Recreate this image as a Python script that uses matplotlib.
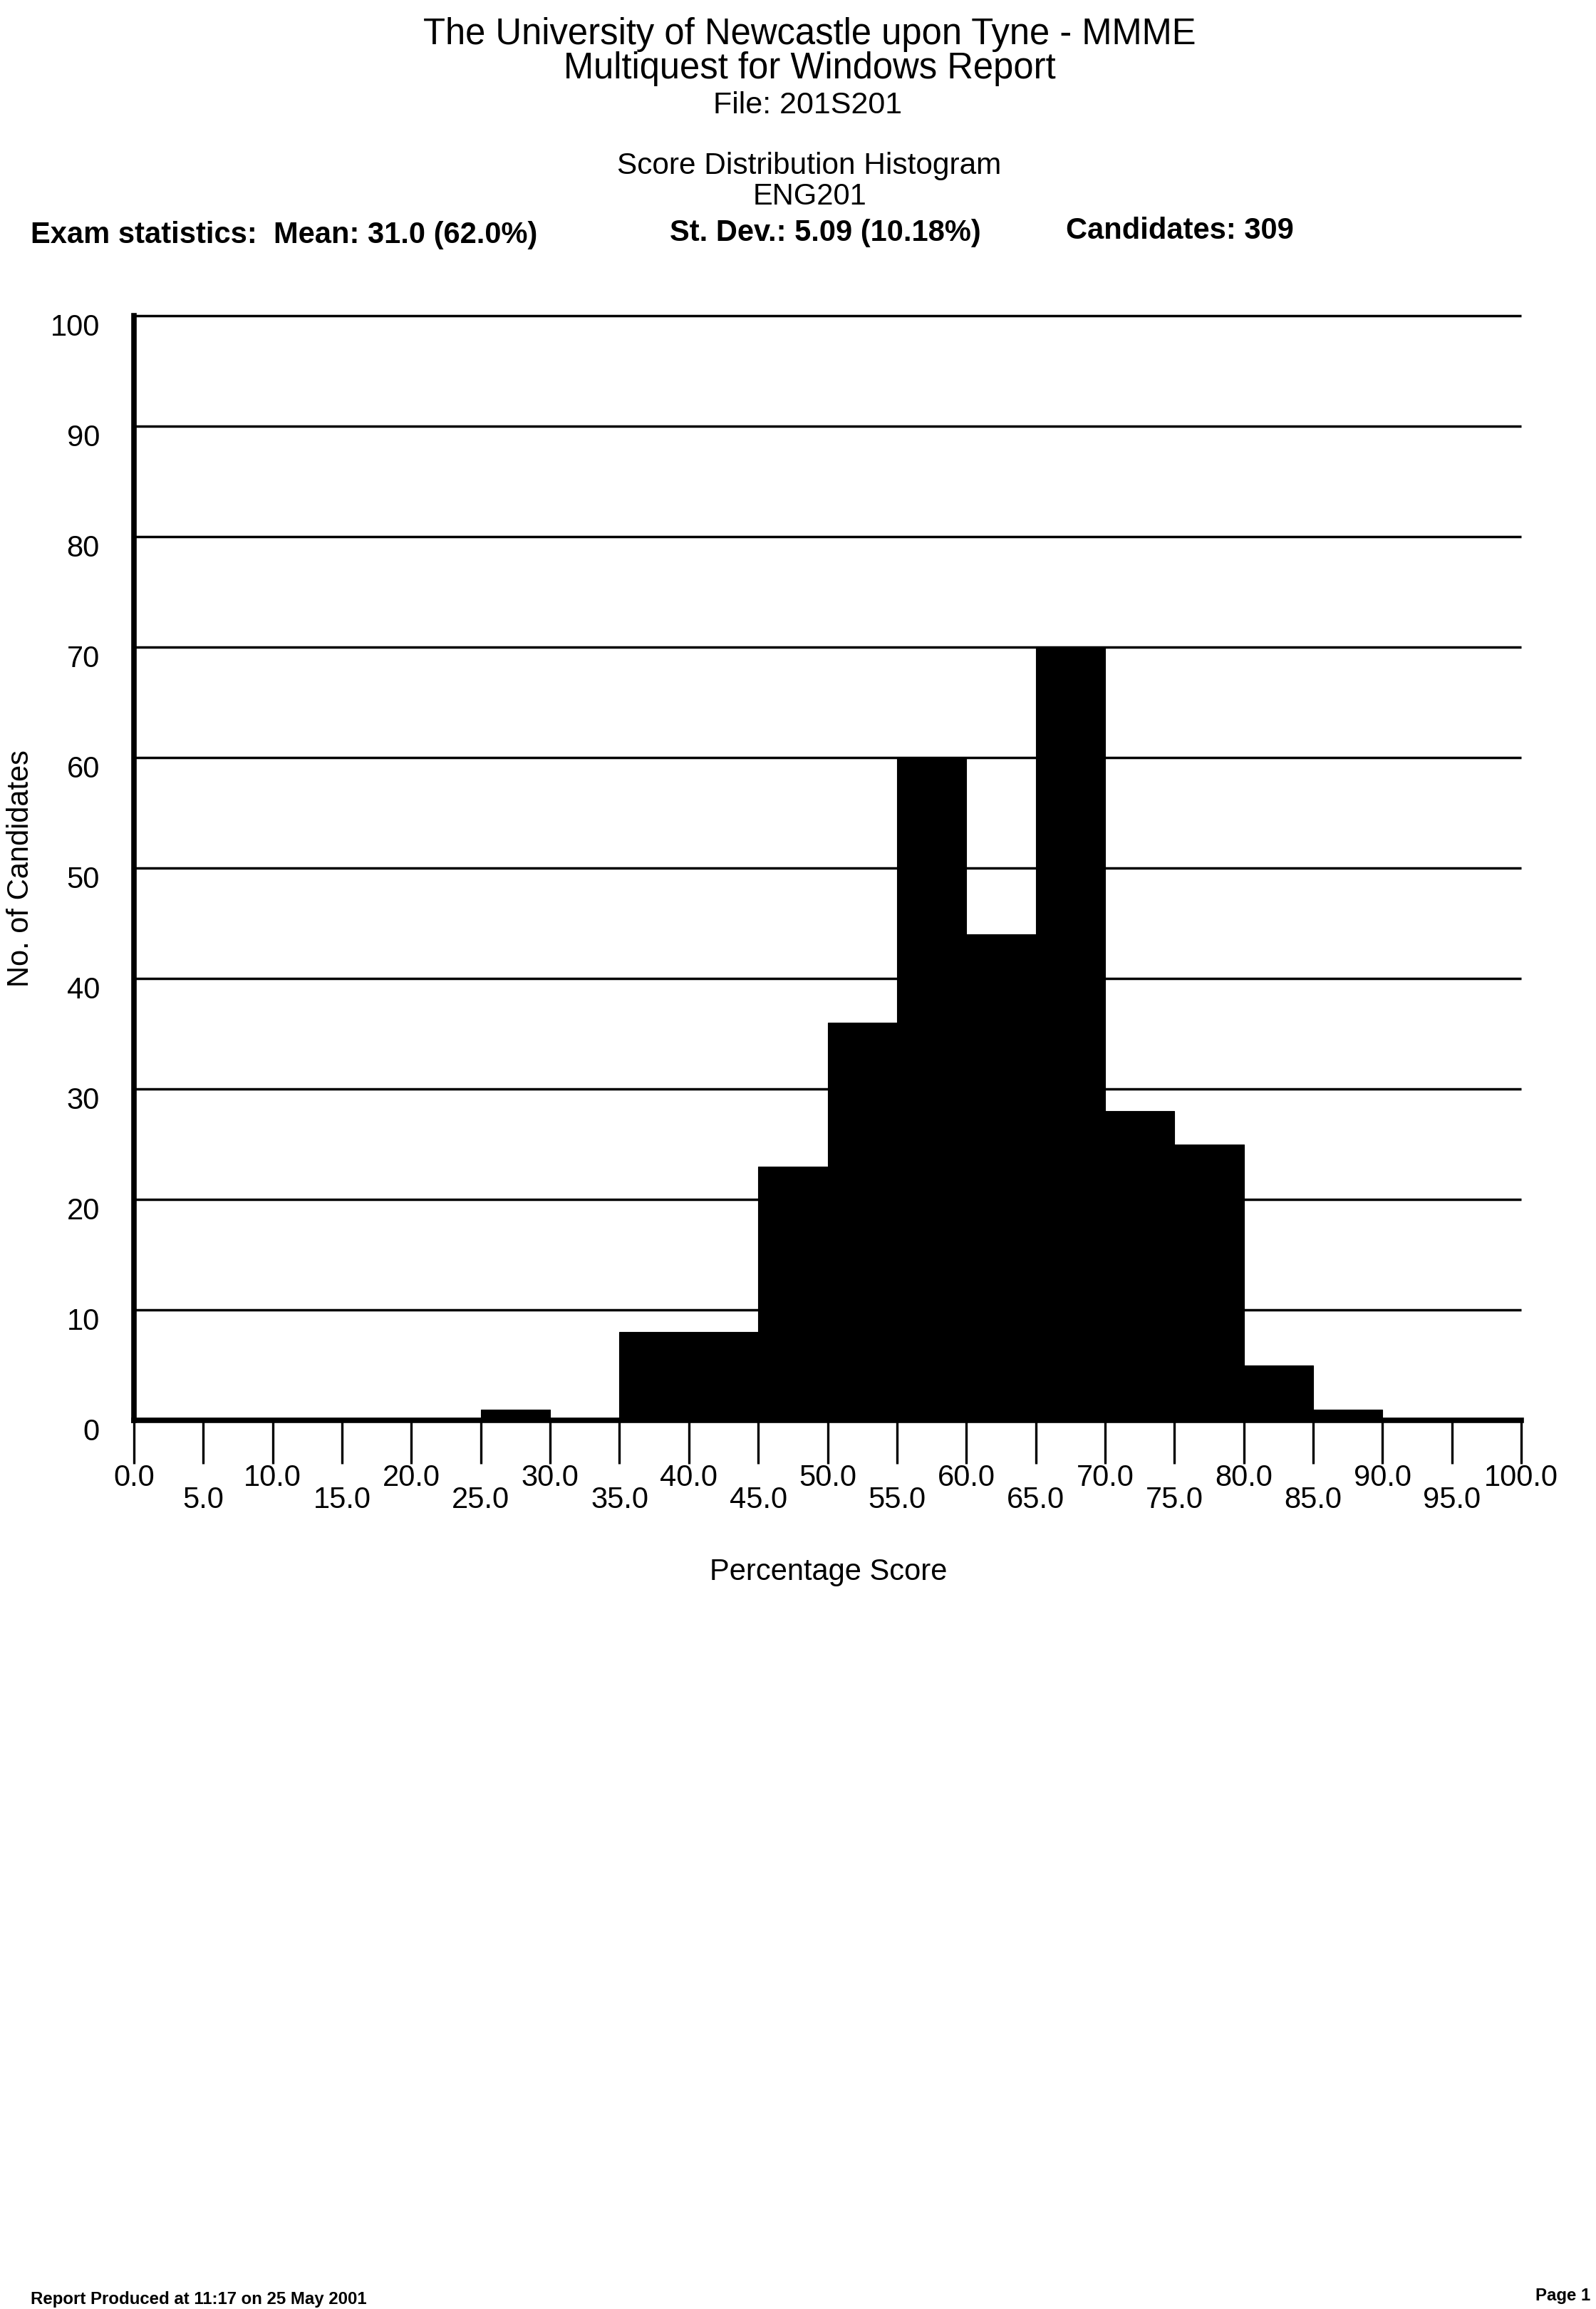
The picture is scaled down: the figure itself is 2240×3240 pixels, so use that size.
import matplotlib
matplotlib.use('Agg')
import matplotlib.pyplot as plt

plt.rcParams['font.family'] = ['Liberation Sans', 'DejaVu Sans']

# ---------------- data ----------------
title_lines = ["The University of Newcastle upon Tyne - MMME",
               "Multiquest for Windows Report",
               "File: 201S201"]
chart_title = "Score Distribution Histogram"
exam_code = "ENG201"
stats_texts = ["Exam statistics:  Mean: 31.0 (62.0%)",
               "St. Dev.: 5.09 (10.18%)",
               "Candidates: 309"]
bin_left = [0, 5, 10, 15, 20, 25, 30, 35, 40, 45,
            50, 55, 60, 65, 70, 75, 80, 85, 90, 95]
bin_width = 5
counts = [0, 0, 0, 0, 0, 1, 0, 8, 8, 23,
          36, 60, 44, 70, 28, 25, 5, 1, 0, 0]
x_ticks = [0, 5, 10, 15, 20, 25, 30, 35, 40, 45, 50,
           55, 60, 65, 70, 75, 80, 85, 90, 95, 100]
x_tick_labels = ["0.0", "5.0", "10.0", "15.0", "20.0", "25.0", "30.0",
                 "35.0", "40.0", "45.0", "50.0", "55.0", "60.0", "65.0",
                 "70.0", "75.0", "80.0", "85.0", "90.0", "95.0", "100.0"]
y_ticks = [0, 10, 20, 30, 40, 50, 60, 70, 80, 90, 100]
y_tick_labels = ["0", "10", "20", "30", "40", "50", "60", "70", "80", "90", "100"]
x_label = "Percentage Score"
y_label = "No. of Candidates"
footer_left = "Report Produced at 11:17 on 25 May 2001"
footer_right = "Page 1"

# ---------------- layout ----------------
W, H = 2240, 3240
DPI = 100


def fx(px):
    return px / W


def fy(py):
    return 1 - py / H


fig = plt.figure(figsize=(W / DPI, H / DPI), dpi=DPI)
fig.patch.set_facecolor('white')

# header
fig.text(fx(1136), fy(62), title_lines[0], ha='center', va='baseline', fontsize=36.5)
fig.text(fx(1136), fy(110), title_lines[1], ha='center', va='baseline', fontsize=36.5)
fig.text(fx(1134), fy(159), title_lines[2], ha='center', va='baseline', fontsize=31)
fig.text(fx(1136), fy(244), chart_title, ha='center', va='baseline', fontsize=30.5)
fig.text(fx(1136), fy(287), exam_code, ha='center', va='baseline', fontsize=30)

stat_x = [43, 940, 1496]
stat_y = [341, 338, 335]
for s, x, y in zip(stats_texts, stat_x, stat_y):
    fig.text(fx(x), fy(y), s, ha='left', va='baseline', fontsize=30, fontweight='bold')

# axes
ax_left, ax_right, ax_bottom, ax_top = 188, 2135, 1993, 443
ax = fig.add_axes([fx(ax_left), fy(ax_bottom), (ax_right - ax_left) / W,
                   (ax_bottom - ax_top) / H])
ax.set_xlim(0, 100)
ax.set_ylim(0, 100)
ax.set_facecolor('none')

ax.hlines(y_ticks[1:], 0, 100, colors='black', linewidth=2.5, zorder=1, clip_on=False)
ax.bar(bin_left, counts, width=bin_width, align='edge', color='black',
       edgecolor='black', linewidth=0.8, zorder=3)

for side in ['top', 'right']:
    ax.spines[side].set_visible(False)
for side in ['left', 'bottom']:
    ax.spines[side].set_linewidth(5.5)
    ax.spines[side].set_color('black')
    ax.spines[side].set_zorder(4)
    ax.spines[side].set_capstyle('projecting')

ax.set_xticks(x_ticks)
ax.set_yticks([])
ax.tick_params(axis='x', direction='out', length=44, width=2.4, color='black',
               labelbottom=False)

for i, (t, lbl) in enumerate(zip(x_ticks, x_tick_labels)):
    off = -66 if i % 2 == 0 else -88.5
    ax.annotate(lbl, xy=(t, 0), xycoords=('data', 'axes fraction'),
                xytext=(0, off), textcoords='offset points',
                ha='center', va='baseline', fontsize=30, annotation_clip=False)

for v, lbl in zip(y_ticks, y_tick_labels):
    ax.annotate(lbl, xy=(0, v), xycoords=('axes fraction', 'data'),
                xytext=(-34.6, -20.2), textcoords='offset points',
                ha='right', va='baseline', fontsize=30, annotation_clip=False)

fig.text(fx(29), fy(1219), y_label, rotation=90, ha='center', va='center', fontsize=30)
fig.text(fx(1163), fy(2217), x_label, ha='center', va='baseline', fontsize=30)

# footer
fig.text(fx(43), fy(3233), footer_left, ha='left', va='baseline', fontsize=17.3,
         fontweight='bold')
fig.text(fx(2232), fy(3228), footer_right, ha='right', va='baseline', fontsize=17.3,
         fontweight='bold')

fig.savefig('out.png', dpi=DPI, facecolor='white')
